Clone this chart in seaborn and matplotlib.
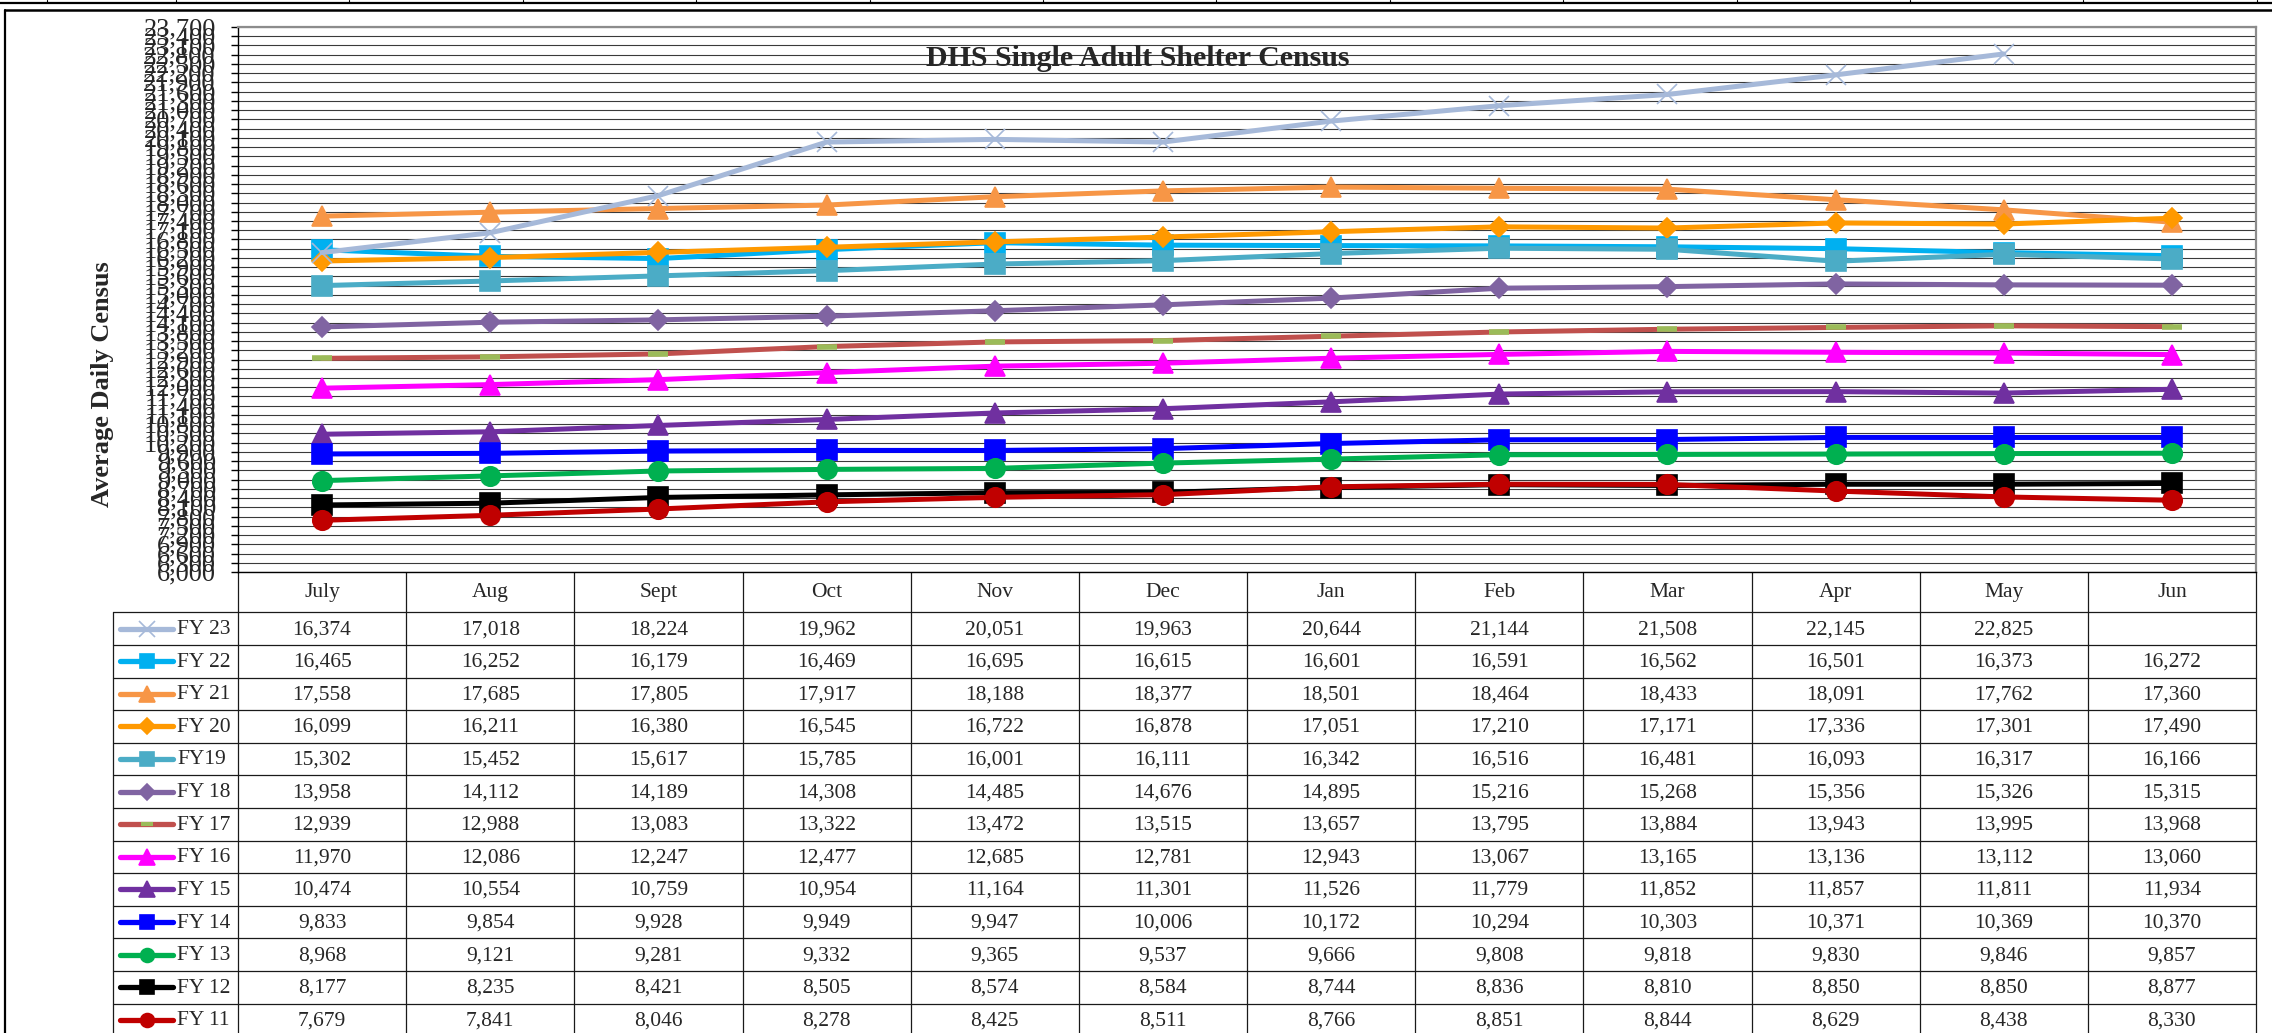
import numpy as np
import pandas as pd
import matplotlib
matplotlib.use("Agg")
import matplotlib.pyplot as plt
import seaborn as sns

# Data
months = ["July", "Aug", "Sept", "Oct", "Nov", "Dec", "Jan", "Feb", "Mar", "Apr", "May", "Jun"]
fy_labels = ["FY 23", "FY 22", "FY 21", "FY 20", "FY19", "FY 18", "FY 17",
             "FY 16", "FY 15", "FY 14", "FY 13", "FY 12", "FY 11"]

fy23 = [16374, 17018, 18224, 19962, 20051, 19963, 20644, 21144, 21508, 22145, 22825, np.nan]
fy22 = [16465, 16252, 16179, 16469, 16695, 16615, 16601, 16591, 16562, 16501, 16373, 16272]
fy21 = [17558, 17685, 17805, 17917, 18188, 18377, 18501, 18464, 18433, 18091, 17762, 17360]
fy20 = [16099, 16211, 16380, 16545, 16722, 16878, 17051, 17210, 17171, 17336, 17301, 17490]
fy19 = [15302, 15452, 15617, 15785, 16001, 16111, 16342, 16516, 16481, 16093, 16317, 16166]
fy18 = [13958, 14112, 14189, 14308, 14485, 14676, 14895, 15216, 15268, 15356, 15326, 15315]
fy17 = [12939, 12988, 13083, 13322, 13472, 13515, 13657, 13795, 13884, 13943, 13995, 13968]
fy16 = [11970, 12086, 12247, 12477, 12685, 12781, 12943, 13067, 13165, 13136, 13112, 13060]
fy15 = [10474, 10554, 10759, 10954, 11164, 11301, 11526, 11779, 11852, 11857, 11811, 11934]
fy14 = [9833, 9854, 9928, 9949, 9947, 10006, 10172, 10294, 10303, 10371, 10369, 10370]
fy13 = [8968, 9121, 9281, 9332, 9365, 9537, 9666, 9808, 9818, 9830, 9846, 9857]
fy12 = [8177, 8235, 8421, 8505, 8574, 8584, 8744, 8836, 8810, 8850, 8850, 8877]
fy11 = [7679, 7841, 8046, 8278, 8425, 8511, 8766, 8851, 8844, 8629, 8438, 8330]

series = [fy23, fy22, fy21, fy20, fy19, fy18, fy17, fy16, fy15, fy14, fy13, fy12, fy11]

# styles
colors = ["#A6B9D9", "#00B0F0", "#F79646", "#FF9900", "#4BACC6", "#8064A2", "#C0504D",
          "#FF00FF", "#7030A0", "#0000FF", "#00B050", "#000000", "#C00000"]
markers = ["x", "s", "^", "D", "s", "D", "_", "^", "^", "s", "o", "s", "o"]
msizes = {"x": 14, "s": 14, "^": 15, "D": 10, "o": 14, "_": 14}
lsizes = {"x": 11, "s": 10, "^": 11, "D": 8, "o": 10, "_": 9}

df = pd.DataFrame({
    "fy": np.repeat(fy_labels, len(months)),
    "month": months * len(fy_labels),
    "pos": list(range(len(months))) * len(fy_labels),
    "census": np.concatenate(series),
})

sns.set_theme(style="white")
plt.rcParams["font.family"] = ["Liberation Serif", "DejaVu Serif"]

W, H = 2272, 1033
fig = plt.figure(figsize=(W / 100, H / 100), dpi=100)

plot_l, plot_r, plot_t, plot_b = 238, 2256, 27, 572
ax = fig.add_axes([plot_l / W, 1 - plot_b / H, (plot_r - plot_l) / W, (plot_b - plot_t) / H])

# FY 23 on top, then FY 22 .. FY 11 stacked upward
for i, (lab, col, mk) in enumerate(zip(fy_labels, colors, markers)):
    sub = df[df["fy"] == lab]
    mec = "#9BBB59" if mk == "_" else col
    sns.lineplot(data=sub, x="pos", y="census", ax=ax, color=col, lw=3.6,
                 marker=mk, markersize=msizes[mk], markeredgecolor=mec,
                 markerfacecolor=col, markeredgewidth=(4 if mk == "_" else 1.2),
                 errorbar=None, zorder=(30 if i == 0 else 10 + i))

ax.set_xlim(-0.5, len(months) - 0.5)
ax.set_ylim(6000, 23700)
ax.set_yticks(np.arange(6000, 23701, 300))
ax.set_yticklabels([f"{v:,}" for v in np.arange(6000, 23701, 300)])
ax.tick_params(axis="y", labelsize=19, length=5, width=1, pad=11, left=True, color="black")
ax.set_xticks([])
ax.set_xlabel("")
ax.set_ylabel("")
ax.yaxis.grid(True, color="#3a3a3a", lw=0.8)
ax.set_axisbelow(True)
for s in ["top", "right"]:
    ax.spines[s].set_color("#8c8c8c")
    ax.spines[s].set_linewidth(1.6)
for s in ["left", "bottom"]:
    ax.spines[s].set_color("black")
    ax.spines[s].set_linewidth(1.0)

fig.text(1138 / W, 1 - 58 / H, "DHS Single Adult Shelter Census", ha="center", va="center",
         fontsize=21.5, fontweight="bold")
fig.text(103 / W, 1 - 384 / H, "Average Daily Census", ha="center", va="center",
         rotation=90, fontsize=19, fontweight="bold")

# table below the chart, drawn in pixel coordinates
tab = fig.add_axes([0, 0, 1, 1], zorder=-1)
tab.set_xlim(0, W)
tab.set_ylim(H, 0)
tab.axis("off")

leg_l = 113
col_w = (plot_r - plot_l) / len(months)
head_b = 612.3
row_h = 32.6
n_rows = len(fy_labels)
line_kw = dict(color="#1a1a1a", lw=0.9)

for k in range(len(months) + 1):
    x = plot_l + k * col_w
    tab.plot([x, x], [plot_b, head_b + n_rows * row_h], **line_kw)
tab.plot([leg_l, leg_l], [head_b, head_b + n_rows * row_h], **line_kw)
for r in range(n_rows + 1):
    y = head_b + r * row_h
    tab.plot([leg_l, plot_r], [y, y], **line_kw)

for k, m in enumerate(months):
    tab.text(plot_l + (k + 0.5) * col_w, (plot_b + head_b) / 2, m, ha="center", va="center", fontsize=15.5)

for r, (lab, vals, col, mk) in enumerate(zip(fy_labels, series, colors, markers)):
    yc = head_b + (r + 0.5) * row_h
    mec = "#9BBB59" if mk == "_" else col
    tab.plot([120, 173], [yc, yc], color=col, lw=3.8, solid_capstyle="round")
    tab.plot([146.5], [yc], marker=mk, color=col, ms=lsizes[mk], mec=mec,
             mew=(3 if mk == "_" else 1.2), ls="none")
    tab.text(177, yc + 1, lab, ha="left", va="center", fontsize=15.5)
    for k, v in enumerate(vals):
        if not np.isnan(v):
            tab.text(plot_l + (k + 0.5) * col_w, yc + 1, f"{int(v):,}", ha="center", va="center", fontsize=15.5)

# page frame around the chart
tab.plot([5, 5], [10, H], color="black", lw=1.6)
tab.plot([5, W], [10, 10], color="black", lw=1.8)
tab.plot([0, W], [2.5, 2.5], color="black", lw=1.6)
for x in [47] + list(np.arange(176, W, 173.4)):
    tab.plot([x, x], [0, 2.5], color="black", lw=0.8)

fig.savefig("out.png", dpi=100)
